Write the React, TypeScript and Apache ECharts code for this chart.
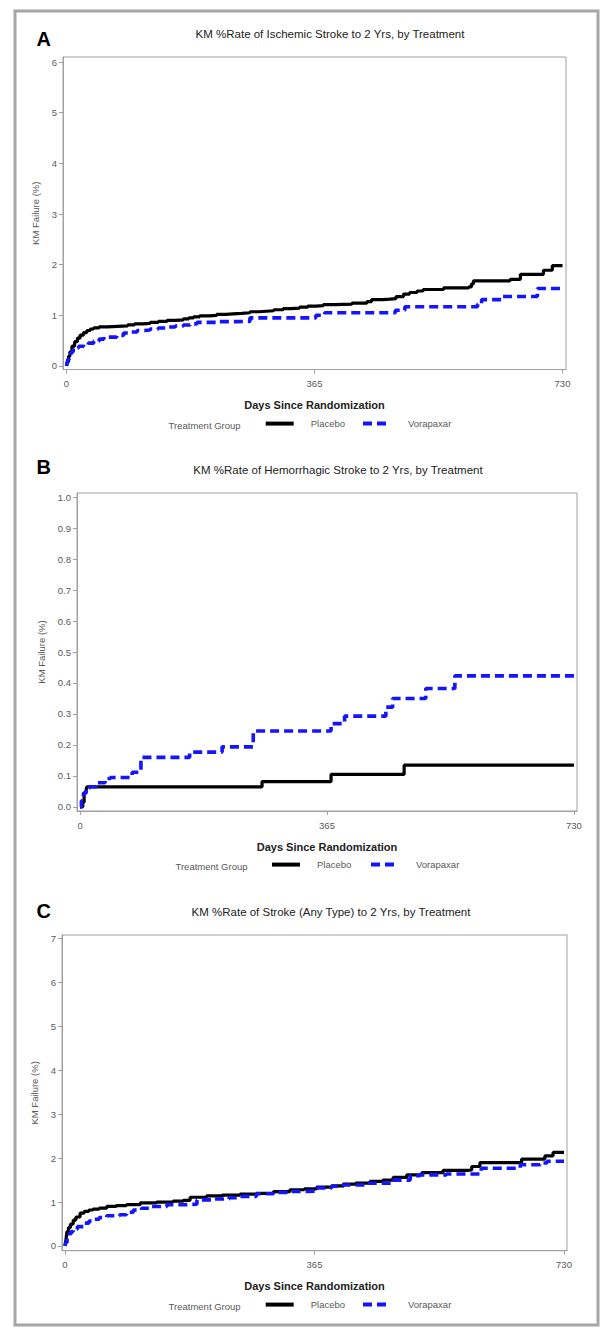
import React, { useEffect, useRef } from "react";
import * as echarts from "echarts";

type Pt = [number, number];

// ---------- data ----------
const DAY_TICKS = [0, 365, 730];
const A_Y_TICKS = [0, 1, 2, 3, 4, 5, 6];
const B_Y_TICKS = [0, 0.1, 0.2, 0.3, 0.4, 0.5, 0.6, 0.7, 0.8, 0.9, 1.0];
const C_Y_TICKS = [0, 1, 2, 3, 4, 5, 6, 7];

const SERIES_NAMES = ["Placebo", "Vorapaxar"];
const PANEL_LETTERS = ["A", "B", "C"];
const PANEL_TITLES = [
  "KM %Rate of Ischemic Stroke to 2 Yrs, by Treatment",
  "KM %Rate of Hemorrhagic Stroke to 2 Yrs, by Treatment",
  "KM %Rate of Stroke (Any Type) to 2 Yrs, by Treatment",
];
const X_TITLE = "Days Since Randomization";
const Y_TITLE = "KM Failure (%)";
const LEGEND_TITLE = "Treatment Group";

// Panel A: ischemic stroke
const A_PLACEBO: Pt[] = [
  [0, 0], [1, 0.08], [3, 0.19], [5, 0.28], [8, 0.39], [12, 0.48], [16, 0.55], [20, 0.61],
  [25, 0.66], [30, 0.7], [35, 0.73], [40, 0.75], [48, 0.77], [60, 0.78], [75, 0.79],
  [90, 0.81], [100, 0.83], [112, 0.84], [123, 0.86], [135, 0.88], [148, 0.9], [160, 0.91],
  [172, 0.93], [180, 0.95], [187, 0.97], [196, 0.99], [210, 1.0], [221, 1.02], [235, 1.03],
  [245, 1.04], [258, 1.05], [270, 1.07], [283, 1.08], [294, 1.09], [305, 1.11], [319, 1.13],
  [330, 1.14], [343, 1.16], [355, 1.18], [367, 1.19], [378, 1.21], [395, 1.22], [420, 1.24],
  [442, 1.27], [449, 1.31], [465, 1.32], [476, 1.33], [485, 1.37], [496, 1.42], [505, 1.45],
  [516, 1.48], [525, 1.51], [555, 1.54], [592, 1.56], [596, 1.62], [599, 1.68], [653, 1.71],
  [668, 1.81], [702, 1.89], [715, 1.98], [730, 1.98],
];
const A_VORAPAXAR: Pt[] = [
  [0, 0], [1, 0.06], [2, 0.13], [4, 0.2], [6, 0.26], [9, 0.31], [13, 0.36], [18, 0.39],
  [25, 0.42], [32, 0.45], [40, 0.49], [48, 0.53], [55, 0.57], [74, 0.6], [84, 0.65],
  [95, 0.67], [104, 0.7], [115, 0.71], [123, 0.73], [135, 0.75], [148, 0.77], [160, 0.79],
  [172, 0.81], [182, 0.83], [192, 0.86], [221, 0.875], [250, 0.88], [270, 0.95], [367, 1.0],
  [380, 1.05], [484, 1.1], [498, 1.17], [605, 1.22], [611, 1.31], [640, 1.37], [693, 1.53],
  [730, 1.53],
];

// Panel B: hemorrhagic stroke
const B_PLACEBO: Pt[] = [
  [0, 0], [4, 0.015], [6, 0.045], [9, 0.055], [10, 0.065], [269, 0.082], [371, 0.105],
  [479, 0.135], [730, 0.135],
];
const B_VORAPAXAR: Pt[] = [
  [0, 0], [2, 0.02], [5, 0.045], [9, 0.06], [14, 0.065], [24, 0.078], [37, 0.092],
  [45, 0.095], [77, 0.112], [90, 0.16], [162, 0.177], [210, 0.194], [256, 0.245],
  [371, 0.269], [391, 0.293], [452, 0.322], [462, 0.35], [511, 0.382], [554, 0.423],
  [730, 0.423],
];

// Panel C: any stroke
const C_PLACEBO: Pt[] = [
  [0, 0], [1, 0.1], [2, 0.22], [3, 0.33], [5, 0.42], [8, 0.5], [12, 0.59], [16, 0.66],
  [22, 0.75], [28, 0.79], [35, 0.82], [41, 0.84], [50, 0.86], [61, 0.9], [75, 0.92],
  [90, 0.94], [110, 0.98], [134, 1.0], [158, 1.02], [173, 1.04], [183, 1.11], [207, 1.14],
  [230, 1.16], [256, 1.18], [280, 1.2], [305, 1.24], [329, 1.28], [350, 1.3], [368, 1.34],
  [390, 1.37], [407, 1.41], [425, 1.43], [446, 1.47], [465, 1.5], [480, 1.56], [500, 1.62],
  [522, 1.67], [553, 1.72], [588, 1.73], [595, 1.81], [607, 1.9], [668, 1.98], [702, 2.05],
  [714, 2.13], [730, 2.13],
];
const C_VORAPAXAR: Pt[] = [
  [0, 0], [1, 0.08], [3, 0.18], [6, 0.28], [9, 0.33], [12, 0.38], [18, 0.44], [27, 0.52],
  [35, 0.57], [41, 0.61], [50, 0.65], [61, 0.69], [80, 0.71], [90, 0.77], [100, 0.82],
  [112, 0.86], [124, 0.9], [149, 0.94], [173, 0.95], [193, 1.05], [217, 1.07], [240, 1.1],
  [256, 1.13], [280, 1.19], [305, 1.22], [329, 1.24], [344, 1.25], [368, 1.32], [390, 1.36],
  [407, 1.39], [441, 1.43], [480, 1.5], [505, 1.6], [519, 1.62], [558, 1.64], [609, 1.77],
  [666, 1.85], [695, 1.89], [705, 1.93], [730, 1.93],
];

const PANEL_DATA: Pt[][][] = [
  [A_PLACEBO, A_VORAPAXAR],
  [B_PLACEBO, B_VORAPAXAR],
  [C_PLACEBO, C_VORAPAXAR],
];
const PANEL_Y_TICKS = [A_Y_TICKS, B_Y_TICKS, C_Y_TICKS];
const PANEL_Y_DECIMALS = [0, 1, 0];

// ---------- layout / style ----------
const FONT = "'Liberation Sans', Arial, Helvetica, sans-serif";
const GRAY_TEXT = "#5a5a5a";
const AXIS_GRAY = "#a0a0a0";

const LAYOUT = [
  {
    grid: { left: 63, top: 57, width: 503, height: 312.5 },
    xRange: [-5.15, 735.15], yRange: [-0.07, 6.1], yNameGap: 20,
    letter: [36.5, 39], title: [330, 34],
    legendY: 425, legendTitleX: 168.6, legendX: [263.7, 361],
  },
  {
    grid: { left: 77, top: 493, width: 500, height: 318 },
    xRange: [-4.5, 734.5], yRange: [-0.013, 1.013], yNameGap: 31,
    letter: [36.5, 466.5], title: [338, 470],
    legendY: 866, legendTitleX: 175.5, legendX: [270, 369],
  },
  {
    grid: { left: 62, top: 935, width: 505, height: 315.7 },
    xRange: [-4.4, 734.4], yRange: [-0.107, 7.08], yNameGap: 19,
    letter: [36.5, 911], title: [331, 912],
    legendY: 1306, legendTitleX: 168.6, legendX: [263.7, 361],
  },
];

const LINE_STYLES = [
  { color: "#000000", width: 3.2, type: "solid" as any },
  { color: "#1414ff", width: 3.6, type: [9, 5] as any },
];

function buildOption() {
  const grids: any[] = [];
  const xAxes: any[] = [];
  const yAxes: any[] = [];
  const series: any[] = [];
  const legends: any[] = [];
  const graphics: any[] = [];

  graphics.push({
    type: "rect",
    shape: { x: 15, y: 11, width: 583, height: 1314 },
    style: { fill: "none", stroke: "#a6a6a6", lineWidth: 3 },
    silent: true,
  });

  LAYOUT.forEach((L, i) => {
    grids.push({
      ...L.grid,
      show: true,
      borderColor: AXIS_GRAY,
      borderWidth: 1,
      backgroundColor: "transparent",
      containLabel: false,
    });
    xAxes.push({
      type: "value",
      gridIndex: i,
      min: L.xRange[0],
      max: L.xRange[1],
      axisLine: { show: true, onZero: false, lineStyle: { color: AXIS_GRAY, width: 1 } },
      axisTick: { show: true, customValues: DAY_TICKS, length: 4, lineStyle: { color: AXIS_GRAY } },
      axisLabel: {
        customValues: DAY_TICKS,
        margin: 9,
        color: GRAY_TEXT,
        fontSize: 9.5,
        fontFamily: FONT,
        formatter: (v: number) => String(v),
      },
      splitLine: { show: false },
      name: X_TITLE,
      nameLocation: "middle",
      nameGap: 30,
      nameTextStyle: { color: "#222", fontSize: 11, fontWeight: "bold", fontFamily: FONT },
    });
    const dec = PANEL_Y_DECIMALS[i];
    yAxes.push({
      type: "value",
      gridIndex: i,
      min: L.yRange[0],
      max: L.yRange[1],
      axisLine: { show: true, onZero: false, lineStyle: { color: AXIS_GRAY, width: 1 } },
      axisTick: { show: true, customValues: PANEL_Y_TICKS[i], length: 4, lineStyle: { color: AXIS_GRAY } },
      axisLabel: {
        customValues: PANEL_Y_TICKS[i],
        margin: 6,
        color: GRAY_TEXT,
        fontSize: 9.5,
        fontFamily: FONT,
        formatter: (v: number) => v.toFixed(dec),
      },
      splitLine: { show: false },
      name: Y_TITLE,
      nameLocation: "middle",
      nameGap: L.yNameGap,
      nameTextStyle: { color: GRAY_TEXT, fontSize: 9.5, fontFamily: FONT },
    });
    PANEL_DATA[i].forEach((data, s) => {
      series.push({
        type: "line",
        name: SERIES_NAMES[s],
        xAxisIndex: i,
        yAxisIndex: i,
        data,
        step: "end",
        symbol: "none",
        lineStyle: LINE_STYLES[s],
        itemStyle: { color: LINE_STYLES[s].color },
        z: 2 + s,
      });
      legends.push({
        data: [SERIES_NAMES[s]],
        left: L.legendX[s],
        top: L.legendY - 7,
        itemWidth: 28,
        itemHeight: 14,
        selectedMode: false,
        padding: 0,
        itemStyle: { color: "rgba(0,0,0,0)", borderWidth: 0, opacity: 0 },
        lineStyle: {
          color: LINE_STYLES[s].color,
          width: 4,
          type: LINE_STYLES[s].type,
          opacity: 1,
        },
        textStyle: { color: GRAY_TEXT, fontSize: 9.5, fontFamily: FONT, padding: [0, 0, 0, 12] },
      });
    });
    graphics.push({
      type: "text",
      x: L.letter[0],
      y: L.letter[1],
      style: {
        text: PANEL_LETTERS[i],
        font: `bold 20px ${FONT}`,
        fill: "#000",
        textAlign: "left",
        textVerticalAlign: "middle",
      },
      silent: true,
    });
    graphics.push({
      type: "text",
      x: L.title[0],
      y: L.title[1],
      style: {
        text: PANEL_TITLES[i],
        font: `11.5px ${FONT}`,
        fill: "#222",
        textAlign: "center",
        textVerticalAlign: "middle",
      },
      silent: true,
    });
    graphics.push({
      type: "text",
      x: L.legendTitleX,
      y: L.legendY,
      style: {
        text: LEGEND_TITLE,
        font: `9.5px ${FONT}`,
        fill: GRAY_TEXT,
        textAlign: "left",
        textVerticalAlign: "middle",
      },
      silent: true,
    });
  });

  return {
    animation: false,
    backgroundColor: "#ffffff",
    textStyle: { fontFamily: FONT },
    grid: grids,
    xAxis: xAxes,
    yAxis: yAxes,
    legend: legends,
    series,
    graphic: graphics,
  };
}

export default function App() {
  const ref = useRef<HTMLDivElement>(null);
  useEffect(() => {
    if (!ref.current) return;
    const chart = echarts.init(ref.current, undefined, { renderer: "svg" });
    chart.setOption(buildOption() as any);
    return () => chart.dispose();
  }, []);
  return (
    <div style={{ position: "absolute", left: 0, top: 0, width: 601, height: 1328, background: "#fff" }}>
      <div ref={ref} style={{ width: 601, height: 1328 }} />
    </div>
  );
}
